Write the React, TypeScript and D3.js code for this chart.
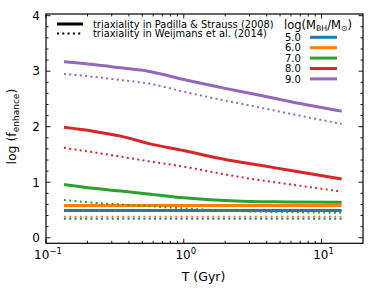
import * as d3 from "d3";

// ─── Data ─────────────────────────────────────────────────────────────────────

const T_GYR = [0.135, 0.22, 0.35, 0.55, 1.0, 2.0, 3.5, 6.0, 14];

const MASS_LABELS = ["5.0", "6.0", "7.0", "8.0", "9.0"];
const MASS_COLORS = ["#1f77b4", "#ff7f0e", "#2ca02c", "#d62728", "#9467bd"];

// log f_enhance, triaxiality in Padilla & Strauss (2008) — solid
const PS_M5 = [0.49, 0.49, 0.49, 0.49, 0.49, 0.49, 0.49, 0.49, 0.49];
const PS_M6 = [0.58, 0.58, 0.58, 0.58, 0.58, 0.58, 0.58, 0.58, 0.58];
const PS_M7 = [0.96, 0.89, 0.84, 0.79, 0.72, 0.67, 0.65, 0.645, 0.64];
const PS_M8 = [1.99, 1.92, 1.83, 1.7, 1.57, 1.41, 1.31, 1.21, 1.06];
const PS_M9 = [3.17, 3.12, 3.06, 3.0, 2.85, 2.69, 2.57, 2.45, 2.28];

// log f_enhance, triaxiality in Weijmans et al. (2014) — dotted
const WJ_M5 = [0.34, 0.34, 0.34, 0.34, 0.34, 0.34, 0.34, 0.34, 0.34];
const WJ_M6 = [0.38, 0.38, 0.38, 0.38, 0.38, 0.38, 0.38, 0.38, 0.38];
const WJ_M7 = [0.68, 0.63, 0.6, 0.57, 0.53, 0.49, 0.47, 0.46, 0.45];
const WJ_M8 = [1.62, 1.54, 1.46, 1.38, 1.28, 1.14, 1.04, 0.96, 0.83];
const WJ_M9 = [2.95, 2.9, 2.84, 2.78, 2.63, 2.47, 2.35, 2.23, 2.05];

const PADILLA = [PS_M5, PS_M6, PS_M7, PS_M8, PS_M9];
const WEIJMANS = [WJ_M5, WJ_M6, WJ_M7, WJ_M8, WJ_M9];

const X_MAJOR = [0.1, 1, 10];
const X_EXP = ["−1", "0", "1"];
const Y_MAJOR = [0, 1, 2, 3, 4];

// ─── Layout ───────────────────────────────────────────────────────────────────

const W = 374;
const H = 296;
const L = 46,
  R = 363,
  TOP = 14,
  BOT = 243.3;
const FONT = "'DejaVu Sans', sans-serif";
const INK = "#000";

export default function App() {
  const x = d3.scaleLog().domain([0.1, 20]).range([L, R]);
  const y = d3.scaleLinear().domain([-0.1, 4.03]).range([BOT, TOP]);

  const line = d3
    .line<number>()
    .x((_, i) => x(T_GYR[i]))
    .y((d) => y(d))
    .curve(d3.curveMonotoneX);

  const xMinor: number[] = [];
  [0.1, 1, 10].forEach((dec) => {
    for (let k = 2; k <= 9; k++) {
      const v = dec * k;
      if (v < 20) xMinor.push(v);
    }
  });
  const yMinor = d3
    .range(0, 4.01, 0.2)
    .filter((v) => Math.abs(v - Math.round(v)) > 1e-6);

  const MAJ = 4.5,
    MIN = 2.5;

  return (
    <svg
      width={W}
      height={H}
      viewBox={`0 0 ${W} ${H}`}
      style={{ position: "absolute", left: 0, top: 0, background: "#fff" }}
      fontFamily={FONT}
    >
      {/* Series */}
      <g fill="none">
        {MASS_COLORS.map((c, i) => (
          <g key={i}>
            <path d={line(PADILLA[i])!} stroke={c} strokeWidth={3} />
            <path
              d={line(WEIJMANS[i])!}
              stroke={c}
              strokeWidth={2}
              strokeDasharray="2,3.3"
            />
          </g>
        ))}
      </g>

      {/* Ticks */}
      <g stroke={INK} strokeWidth={0.9}>
        {X_MAJOR.map((v) => (
          <g key={"xM" + v}>
            <line x1={x(v)} x2={x(v)} y1={BOT} y2={BOT - MAJ} />
            <line x1={x(v)} x2={x(v)} y1={TOP} y2={TOP + MAJ} />
          </g>
        ))}
        {xMinor.map((v) => (
          <g key={"xm" + v}>
            <line x1={x(v)} x2={x(v)} y1={BOT} y2={BOT - MIN} />
            <line x1={x(v)} x2={x(v)} y1={TOP} y2={TOP + MIN} />
          </g>
        ))}
        {Y_MAJOR.map((v) => (
          <g key={"yM" + v}>
            <line x1={L} x2={L + MAJ} y1={y(v)} y2={y(v)} />
            <line x1={R} x2={R - MAJ} y1={y(v)} y2={y(v)} />
          </g>
        ))}
        {yMinor.map((v) => (
          <g key={"ym" + v}>
            <line x1={L} x2={L + MIN} y1={y(v)} y2={y(v)} />
            <line x1={R} x2={R - MIN} y1={y(v)} y2={y(v)} />
          </g>
        ))}
      </g>

      {/* Frame */}
      <rect
        x={L}
        y={TOP}
        width={R - L}
        height={BOT - TOP}
        fill="none"
        stroke={INK}
        strokeWidth={1.2}
      />

      {/* Tick labels */}
      <g fontSize={12} fill={INK}>
        {Y_MAJOR.map((v) => (
          <text key={v} x={L - 6} y={y(v) + 4.3} textAnchor="end">
            {v}
          </text>
        ))}
        {X_MAJOR.map((v, i) => (
          <text key={v} x={x(v) + 2} y={258.5} textAnchor="middle">
            10
            <tspan fontSize={8.5} dy={-5}>
              {X_EXP[i]}
            </tspan>
          </text>
        ))}
      </g>

      {/* Axis labels */}
      <text x={(L + R) / 2 - 1} y={281} textAnchor="middle" fontSize={12.5} fill={INK}>
        T (Gyr)
      </text>
      <text
        transform={`translate(16,${(TOP + BOT) / 2 - 2}) rotate(-90)`}
        textAnchor="middle"
        fontSize={12.5}
        fill={INK}
      >
        log (f
        <tspan fontSize={9} dy={3}>
          enhance
        </tspan>
        <tspan dy={-3}>)</tspan>
      </text>

      {/* Legend: triaxiality */}
      <g fontSize={9.9} fill={INK}>
        <line x1={57} x2={83} y1={24} y2={24} stroke={INK} strokeWidth={3} />
        <line
          x1={57}
          x2={83}
          y1={33.5}
          y2={33.5}
          stroke={INK}
          strokeWidth={2}
          strokeDasharray="2,3.3"
        />
        <text x={93} y={27.5}>
          triaxiality in Padilla &amp; Strauss (2008)
        </text>
        <text x={93} y={37}>
          triaxiality in Weijmans et al. (2014)
        </text>
      </g>

      {/* Legend: black hole mass */}
      <g fill={INK}>
        <text x={284} y={29} fontSize={11.5}>
          log(M
          <tspan fontSize={7.8} dy={2}>
            BH
          </tspan>
          <tspan dy={-2}>/M</tspan>
          <tspan fontSize={7.8} dy={2}>
            ⊙
          </tspan>
          <tspan dy={-2}>)</tspan>
        </text>
        {MASS_LABELS.map((m, i) => (
          <g key={m}>
            <text x={285} y={41 + i * 10.4} fontSize={10}>
              {m}
            </text>
            <line
              x1={310}
              x2={337}
              y1={37.3 + i * 10.4}
              y2={37.3 + i * 10.4}
              stroke={MASS_COLORS[i]}
              strokeWidth={3}
            />
          </g>
        ))}
      </g>
    </svg>
  );
}
